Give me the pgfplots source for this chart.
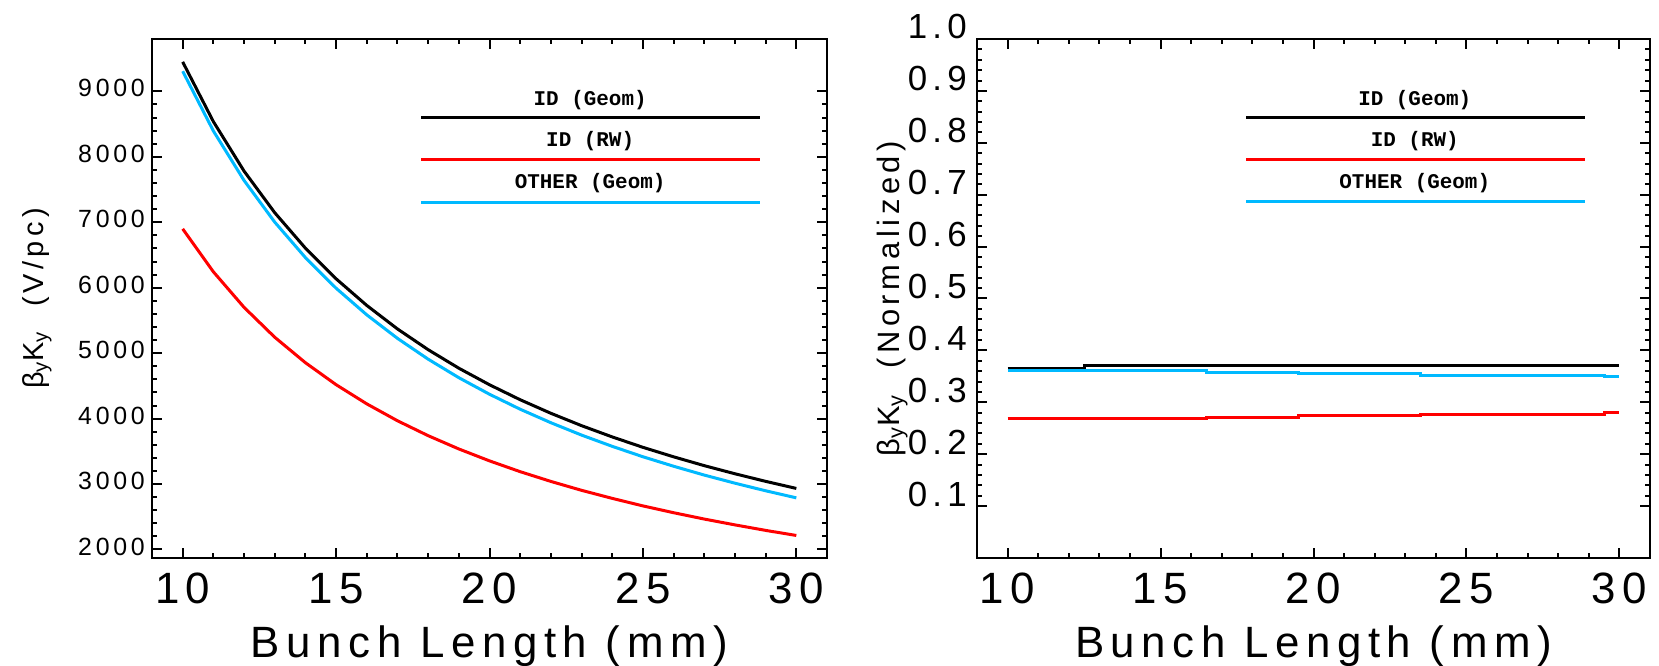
\documentclass[border=0pt]{standalone}
\usepackage{fontspec}
\setmainfont{Liberation Sans}
\newfontfamily\hfont[LetterSpace=15]{Liberation Sans}
\newfontfamily\lfont{Liberation Mono}
\usepackage{pgfplots}
\pgfplotsset{compat=1.18}
\definecolor{cblue}{RGB}{0,185,255}
\definecolor{cred}{RGB}{255,0,0}

\pgfplotstableread{
x black blue red
10 9450 9308 6899
11 8538 8395 6243
12 7782 7639 5700
13 7146 7002 5243
14 6604 6460 4854
15 6136 5992 4518
16 5729 5585 4225
17 5370 5226 3967
18 5053 4908 3739
19 4770 4625 3536
20 4517 4372 3354
21 4288 4143 3189
22 4081 3937 3040
23 3892 3748 2904
24 3720 3576 2781
25 3561 3417 2666
26 3416 3272 2562
27 3281 3137 2465
28 3157 3013 2376
29 3041 2897 2292
30 2933 2789 2214
}\abstable

\pgfplotsset{hstyle/.style={
  scale only axis, height=519bp,
  xmin=9, xmax=31, xtick={10,15,20,25,30}, xticklabels={10,15,20,25,30},
  minor x tick num=4,
  major tick length=10bp, minor tick length=5bp,
  tick style={black, line width=2bp},
  axis line style={line width=2.5bp},
  xticklabel style={font=\fontsize{44}{44}\selectfont\hfont, anchor=base, yshift=-45bp, inner sep=0pt},
  xlabel={Bunch Length (mm)},
  xlabel style={font=\fontsize{44}{44}\selectfont\hfont, at={(axis description cs:0.5,0)}, anchor=base, yshift=-99bp},
  ylabel style={anchor=center},
}}

\begin{document}
\begin{tikzpicture}
\begin{axis}[hstyle, at={(152bp,108bp)}, anchor=south west, width=675bp,
  ymin=1870, ymax=9800,
  ytick={2000,3000,4000,5000,6000,7000,8000,9000},
  yticklabels={2000,3000,4000,5000,6000,7000,8000,9000},
  minor y tick num=4,
  yticklabel style={font=\fontsize{25}{25}\selectfont\hfont, anchor=east, xshift=-7bp, yshift=3bp, inner sep=0pt},
  ylabel={β\textsubscript{y}K\textsubscript{y}\ \ (V/pc)},
  ylabel style={font=\fontsize{29}{29}\selectfont\hfont, at={(axis description cs:-0.170,0.5)}},
]
\addplot[black, line width=3bp] table[x=x, y=black] {\abstable};
\addplot[cred, line width=3bp] table[x=x, y=red] {\abstable};
\addplot[cblue, line width=3bp] table[x=x, y=blue] {\abstable};
\draw[black, line width=3bp] (axis cs:17.77,8597) -- (axis cs:28.83,8597);
\draw[cred, line width=3bp] (axis cs:17.77,7953) -- (axis cs:28.83,7953);
\draw[cblue, line width=3bp] (axis cs:17.77,7309) -- (axis cs:28.83,7309);
\node[font=\fontsize{21}{21}\selectfont\lfont\bfseries] at (axis cs:23.28,8873) {ID (Geom)};
\node[font=\fontsize{21}{21}\selectfont\lfont\bfseries] at (axis cs:23.28,8244) {ID (RW)};
\node[font=\fontsize{21}{21}\selectfont\lfont\bfseries] at (axis cs:23.28,7600) {OTHER (Geom)};
\end{axis}

\begin{axis}[hstyle, at={(977bp,108bp)}, anchor=south west, width=673bp,
  ymin=0, ymax=1,
  ytick={0.1,0.2,0.3,0.4,0.5,0.6,0.7,0.8,0.9,1.0},
  yticklabels={0.1,0.2,0.3,0.4,0.5,0.6,0.7,0.8,0.9,1.0},
  minor y tick num=4,
  yticklabel style={font=\fontsize{35}{35}\selectfont\hfont, anchor=base east, xshift=-10bp, inner sep=0pt},
  ylabel={β\textsubscript{y}K\textsubscript{y}\ \ (Normalized)},
  ylabel style={font=\fontsize{31}{31}\selectfont\hfont, at={(axis description cs:-0.126,0.5)}},
]
\addplot[black, line width=3bp] coordinates {(10,0.366) (12.5,0.366) (12.5,0.370) (30,0.370)};
\addplot[cred, line width=3bp] coordinates {(10,0.268) (16.5,0.268) (16.5,0.271) (19.5,0.271) (19.5,0.274) (23.5,0.274) (23.5,0.277) (29.5,0.277) (29.5,0.280) (30,0.280)};
\addplot[cblue, line width=3bp] coordinates {(10,0.361) (16.5,0.361) (16.5,0.358) (19.5,0.358) (19.5,0.355) (23.5,0.355) (23.5,0.352) (29.5,0.352) (29.5,0.349) (30,0.349)};
\draw[black, line width=3bp] (axis cs:17.80,0.848) -- (axis cs:28.86,0.848);
\draw[cred, line width=3bp] (axis cs:17.80,0.767) -- (axis cs:28.86,0.767);
\draw[cblue, line width=3bp] (axis cs:17.80,0.686) -- (axis cs:28.86,0.686);
\node[font=\fontsize{21}{21}\selectfont\lfont\bfseries] at (axis cs:23.31,0.882) {ID (Geom)};
\node[font=\fontsize{21}{21}\selectfont\lfont\bfseries] at (axis cs:23.31,0.803) {ID (RW)};
\node[font=\fontsize{21}{21}\selectfont\lfont\bfseries] at (axis cs:23.31,0.723) {OTHER (Geom)};
\end{axis}
\pgfresetboundingbox
\path[use as bounding box] (0bp,0bp) rectangle (1659bp,666bp);
\end{tikzpicture}
\end{document}
